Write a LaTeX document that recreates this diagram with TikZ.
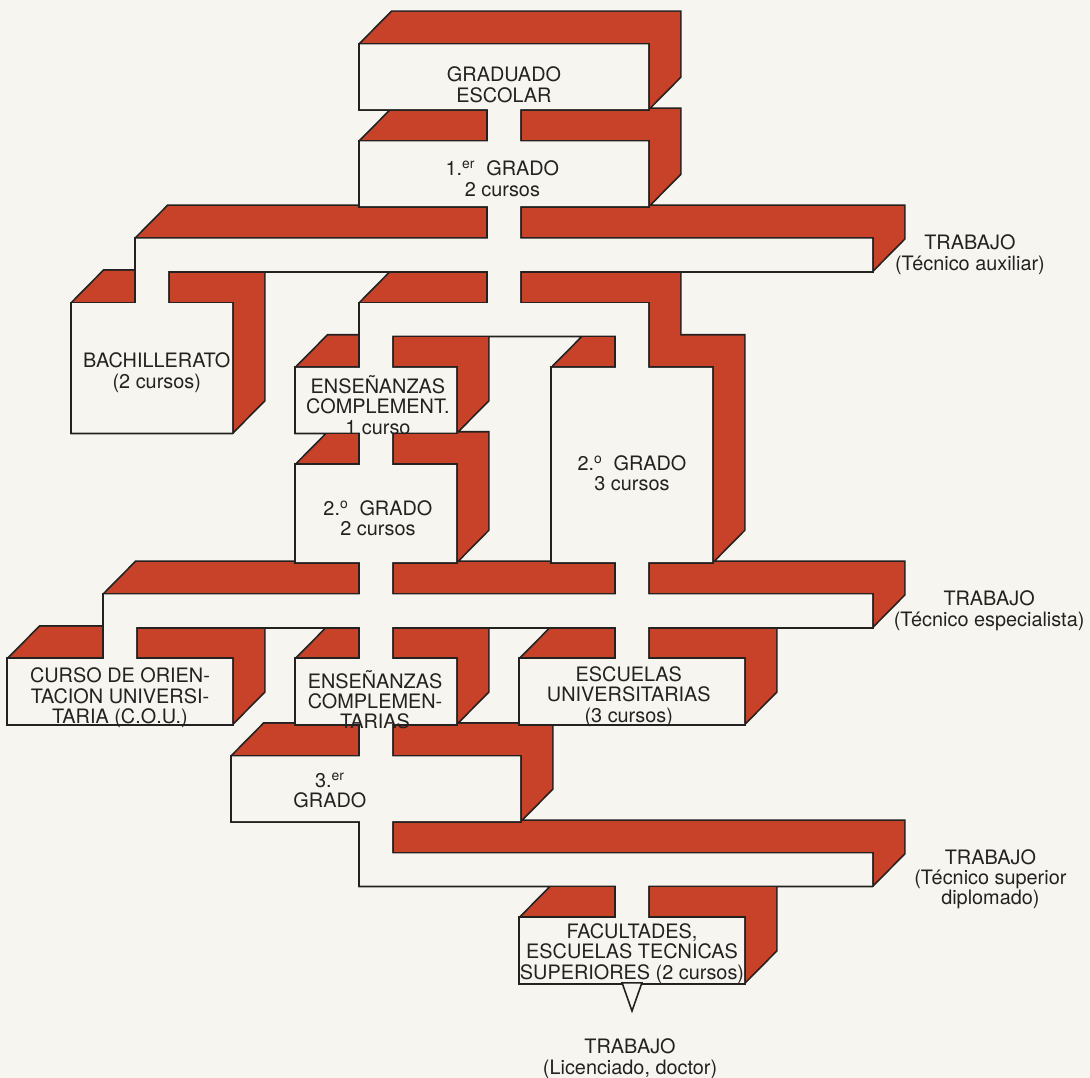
\documentclass[tikz,border=0pt]{standalone}
\usepackage{fontspec}
\setmainfont{TeX Gyre Heros}
\usetikzlibrary{positioning}
\definecolor{brick}{RGB}{200,66,42}
\definecolor{paper}{RGB}{247,245,239}
\definecolor{ink}{RGB}{36,34,32}
% fronts of the pipes: left/top/right/bottom in grid units
\newcommand{\pipes}{11/1/20/3, 15/3/16/4, 11/4/20/6, 15/6/16/7,
  4/7/27/8, 4/8/5/9, 2/9/7/13, 15/8/16/9, 11/9/20/10,
  11/10/12/11, 9/11/14/13, 11/13/12/14, 9/14/14/17,
  19/10/20/11, 17/11/22/17, 11/17/12/18, 19/17/20/18,
  3/18/27/19, 3/19/4/20, 0/20/7/22, 11/19/12/20, 9/20/14/22,
  19/19/20/20, 16/20/23/22, 11/22/12/23, 7/23/16/25,
  11/25/12/26, 11/26/27/27, 19/27/20/28, 16/28/23/30}

\begin{document}
\begin{tikzpicture}[x=24pt,y=-24.27pt,line width=2.6pt]
\tikzset{lab/.style={align=center,inner sep=0pt,text=ink,font=\fontsize{14.9}{15.3}\selectfont}}
\fill[paper] (-0.25,-0.3708) rectangle (33.8125,32.942);
\useasboundingbox (-0.25,-0.3708) rectangle (33.8125,32.942);
% red sides
\path[draw=ink,postaction={fill=brick}] \foreach \ia/\ja/\ib/\jb in \pipes
  {(\ia,\jb)--(\ia,\ja)--(\ia+1,\ja-1)--(\ib+1,\ja-1)--(\ib+1,\jb-1)--(\ib,\jb)--cycle};
% white fronts
\path[draw=ink,postaction={fill=paper}] \foreach \ia/\ja/\ib/\jb in \pipes
  {(\ia,\ja) rectangle (\ib,\jb)};
\draw[ink,line width=1.2pt,fill=paper] (19.19,30)--(19.81,30)--(19.5,30.87)--cycle;
% labels
\node[lab] (graduado) at (15.5,2.25) {GRADUADO\\ESCOLAR};
\node[lab] (grado1) at (15.45,5.15) {1.\textsuperscript{er}\ \ GRADO\\2 cursos};
\node[lab] (bach) at (4.65,11.15) {BACHILLERATO\\(2 cursos)};
\node[lab] (ens1) at (11.56,12.15) {ENSEÑANZAS\\COMPLEMENT.\\1 curso};
\node[lab] (grado2a) at (11.56,15.65) {2.\textsuperscript{o}\ \ GRADO\\2 cursos};
\node[lab] (grado2b) at (19.5,14.25) {2.\textsuperscript{o}\ \ GRADO\\3 cursos};
\node[lab] (cou) at (3.5,21.2) {CURSO DE ORIEN-\\TACION UNIVERSI-\\TARIA (C.O.U.)};
\node[lab] (ens2) at (11.47,21.25) {ENSEÑANZAS\\COMPLEMEN-\\TARIAS};
\node[lab] (escuelas) at (19.4,21.15) {ESCUELAS\\UNIVERSITARIAS\\(3 cursos)};
\node[lab] (grado3) at (10.06,24.05) {3.\textsuperscript{er}\\GRADO};
\node[lab] (facultades) at (19.5,29.1) {FACULTADES,\\ESCUELAS TECNICAS\\SUPERIORES (2 cursos)};
\node[lab] (trab1) at (30.06,7.5) {TRABAJO\\(Técnico auxiliar)};
\node[lab] (trab2) at (30.66,18.5) {TRABAJO\\(Técnico especialista)};
\node[lab] (trab3) at (30.7,26.8) {TRABAJO\\(Técnico superior\\diplomado)};
\node[lab] (trab4) at (19.44,32.35) {TRABAJO\\(Licenciado, doctor)};
\end{tikzpicture}
\end{document}
